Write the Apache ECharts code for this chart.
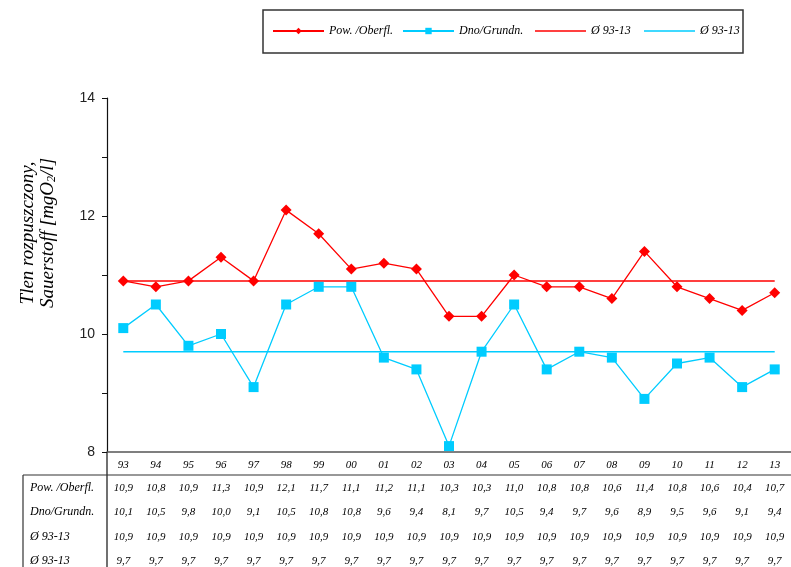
<!DOCTYPE html>
<html>
<head>
<meta charset="utf-8">
<script src="https://cdn.jsdelivr.net/npm/echarts@6/dist/echarts.min.js"></script>
<style>
  html, body { margin: 0; padding: 0; background: #fff; }
  #chart { width: 791px; height: 567px; }
</style>
</head>
<body>
<div id="chart"></div>
<script>
const years = ['93', '94', '95', '96', '97', '98', '99', '00', '01', '02', '03',
  '04', '05', '06', '07', '08', '09', '10', '11', '12', '13']
const surface = [10.9, 10.8, 10.9, 11.3, 10.9, 12.1, 11.7, 11.1, 11.2, 11.1, 10.3,
  10.3, 11.0, 10.8, 10.8, 10.6, 11.4, 10.8, 10.6, 10.4, 10.7]
const bottom = [10.1, 10.5, 9.8, 10.0, 9.1, 10.5, 10.8, 10.8, 9.6, 9.4, 8.1,
  9.7, 10.5, 9.4, 9.7, 9.6, 8.9, 9.5, 9.6, 9.1, 9.4]
const avgSurface = 10.9
const avgBottom = 9.7
const rowLabels = ['Pow. /Oberfl.', 'Dno/Grundn.', 'Ø 93-13', 'Ø 93-13']
const yTicks = { min: 8, max: 14, interval: 2 }

const RED = '#ff0000'
const CYAN = '#00ccff'
const italic = { fontFamily: 'Liberation Serif', fontStyle: 'italic', color: '#000' }

const fmt = v => v.toFixed(1).replace('.', ',')
const avgSurfaceRow = years.map(() => avgSurface)
const avgBottomRow = years.map(() => avgBottom)
const tableRows = [surface, bottom, avgSurfaceRow, avgBottomRow]
const rowOffsets = [23, 47, 72, 96]

const chart = echarts.init(document.getElementById('chart'))

const xAxes = [{
  type: 'category',
  data: years,
  position: 'bottom',
  axisLine: { show: true, lineStyle: { color: '#555', width: 1.5 } },
  axisTick: { show: false },
  axisLabel: { ...italic, fontSize: 11, margin: 8 }
}]
tableRows.forEach((row, i) => {
  xAxes.push({
    type: 'category',
    data: row.map(fmt),
    position: 'bottom',
    offset: rowOffsets[i],
    axisLine: { show: false },
    axisTick: { show: false },
    axisLabel: { ...italic, fontSize: 11, margin: 8 }
  })
})

const legendBase = {
  top: 25,
  orient: 'horizontal',
  padding: 0,
  itemWidth: 51,
  itemHeight: 8,
  itemGap: 0,
  textStyle: { ...italic, fontSize: 12 },
  formatter: name => name.startsWith('avg') ? 'Ø 93-13' : name
}
// plain line icon for the average series
const lineIcon = { icon: 'rect', itemHeight: 1.5 }

chart.setOption({
  animation: false,
  backgroundColor: '#fff',
  grid: { left: 107, right: -2, top: 98, bottom: 115 },
  legend: [
    { ...legendBase, left: 272, data: ['Pow. /Oberfl.'] },
    { ...legendBase, left: 402, data: ['Dno/Grundn.'] },
    { ...legendBase, ...lineIcon, left: 535, data: ['avgS'] },
    { ...legendBase, ...lineIcon, left: 644, data: ['avgB'] }
  ],
  xAxis: xAxes,
  yAxis: {
    type: 'value',
    min: yTicks.min,
    max: yTicks.max,
    interval: yTicks.interval,
    axisLine: { show: true, lineStyle: { color: '#111', width: 1.2 } },
    axisTick: { show: true, length: 5, lineStyle: { color: '#111' } },
    minorTick: { show: true, splitNumber: 2, length: 5, lineStyle: { color: '#111' } },
    splitLine: { show: false },
    axisLabel: { fontFamily: 'Liberation Sans', fontSize: 14, color: '#222', margin: 12 }
  },
  series: [
    {
      name: 'avgS', type: 'line', data: avgSurfaceRow, symbol: 'none',
      lineStyle: { color: RED, width: 1.5 }, itemStyle: { color: RED }
    },
    {
      name: 'avgB', type: 'line', data: avgBottomRow, symbol: 'none',
      lineStyle: { color: CYAN, width: 1.5 }, itemStyle: { color: CYAN }
    },
    {
      name: 'Pow. /Oberfl.', type: 'line', data: surface,
      symbol: 'diamond', symbolSize: 11,
      lineStyle: { color: RED, width: 1.3 }, itemStyle: { color: RED }
    },
    {
      name: 'Dno/Grundn.', type: 'line', data: bottom,
      symbol: 'rect', symbolSize: 10,
      lineStyle: { color: CYAN, width: 1.3 }, itemStyle: { color: CYAN }
    }
  ],
  graphic: [
    // legend frame
    { type: 'rect', shape: { x: 263, y: 10, width: 480, height: 43 },
      style: { fill: 'none', stroke: '#333', lineWidth: 1.5 }, silent: true },
    // axis title
    { type: 'text', x: 38, y: 233, rotation: Math.PI / 2,
      style: {
        text: '{t|Tlen rozpuszczony,}\n{t|Sauerstoff [mgO}{s|2}{t|/l]}',
        align: 'center', verticalAlign: 'middle',
        rich: {
          t: { fontFamily: 'Liberation Serif', fontStyle: 'italic', fontSize: 19, lineHeight: 20, fill: '#000' },
          s: { fontFamily: 'Liberation Serif', fontStyle: 'italic', fontSize: 12, lineHeight: 20, verticalAlign: 'bottom', padding: [8, 0, 0, 0], fill: '#000' }
        }
      } },
    // table lines
    { type: 'line', shape: { x1: 107, y1: 452, x2: 107, y2: 567 },
      style: { stroke: '#111', lineWidth: 1.2 }, silent: true },
    { type: 'line', shape: { x1: 23, y1: 475, x2: 791, y2: 475 },
      style: { stroke: '#333', lineWidth: 1.2 }, silent: true },
    { type: 'line', shape: { x1: 23, y1: 475, x2: 23, y2: 567 },
      style: { stroke: '#333', lineWidth: 1.2 }, silent: true },
    ...rowLabels.map((t, i) => ({
      type: 'text', x: 30, y: 465 + rowOffsets[i],
      style: { text: t, fontFamily: 'Liberation Serif', fontStyle: 'italic', fontSize: 12,
        fill: '#000', verticalAlign: 'middle' }
    }))
  ]
})
</script>
</body>
</html>
